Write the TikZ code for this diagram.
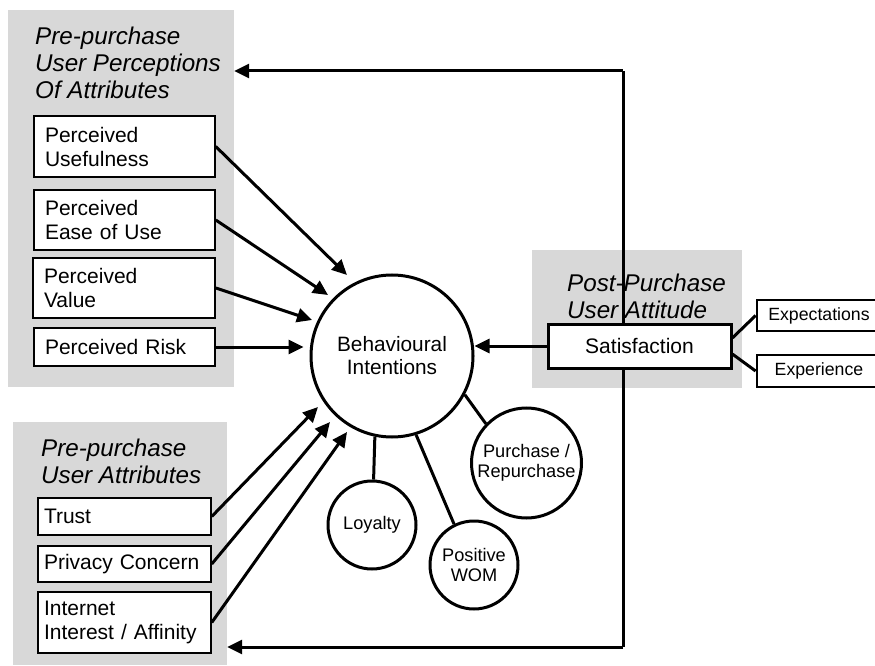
\documentclass[tikz,border=0pt]{standalone}
\usepackage{fontspec}
\setmainfont{Liberation Sans}
\usetikzlibrary{arrows.meta,calc}
\definecolor{grpgray}{RGB}{216,216,216}
\newcommand{\ttlfont}{\fontsize{24.2}{27}\selectfont\itshape}
\newcommand{\boxfont}{\fontsize{21}{24}\selectfont}
\newcommand{\bifont}{\fontsize{20.8}{23}\selectfont}
\newcommand{\smallcfont}{\fontsize{18.2}{20}\selectfont}
\newcommand{\sidefont}{\fontsize{17.7}{20}\selectfont}
\begin{document}
\begin{tikzpicture}[x=1pt,y=1pt,
  grp/.style={fill=grpgray,draw=none,inner sep=0pt},
  ttl/.style={font=\ttlfont,align=left,anchor=north west,inner sep=0pt},
  attr/.style={draw,line width=1.5pt,fill=white,align=left,font=\boxfont,
    inner xsep=11pt,inner ysep=0pt},
  uattr/.style={attr,inner xsep=6pt},
  bigc/.style={circle,draw,line width=3pt,fill=white,align=center,font=\bifont,inner sep=0pt},
  smallc/.style={circle,draw,line width=3pt,fill=white,align=center,font=\smallcfont,inner sep=0pt},
  satbox/.style={draw,line width=3pt,fill=white,font=\boxfont,inner sep=0pt},
  sidebox/.style={draw,line width=2.8pt,fill=white,font=\sidefont,inner sep=0pt},
  arr/.style={line width=3pt,-{Triangle[length=15pt,width=14pt]}},
  link/.style={line width=3pt},
  fb/.style={line width=3pt}]
\useasboundingbox (0,0) rectangle (875,665);

% grey group panels
\node[grp,minimum width=226pt,minimum height=377pt] (g1) at (121,466.5) {};
\node[grp,minimum width=214pt,minimum height=243pt] (g2) at (120,121.5) {};
\node[grp,minimum width=210pt,minimum height=138pt] (g3) at (637,346) {};

% feedback loop from satisfaction back to both pre-purchase groups
\coordinate (fbtop) at (623,594);
\coordinate (fbbot) at (623,18);
\draw[fb] (fbbot) -- (fbtop);
\draw[arr] (fbtop) -- (fbtop -| g1.east);
\draw[arr] (fbbot) -- (fbbot -| g2.east);

% panel titles
\node[ttl] (t1) at (35,638) {Pre-purchase\\User Perceptions\\Of Attributes};
\node[ttl] (t2) at (41,226) {Pre-purchase\\User Attributes};
\node[ttl] (t3) at (567,391) {Post-Purchase\\User Attitude};

% perceived attributes
\node[attr,minimum width=181pt,minimum height=61pt,text width=159pt] (pu) at (124.5,518.5) {Perceived\\Usefulness};
\node[attr,minimum width=181pt,minimum height=60pt,text width=159pt] (pe) at (124.5,445) {Perceived\\Ease of Use};
\node[attr,minimum width=182pt,minimum height=60pt,text width=160pt] (pv) at (124,377) {Perceived\\Value};
\node[attr,minimum width=181pt,minimum height=38pt,text width=159pt] (pr) at (124.5,318) {Perceived Risk};

% user attributes
\node[uattr,minimum width=173pt,minimum height=37pt,text width=161pt] (tr) at (124.5,148.5) {Trust};
\node[uattr,minimum width=173pt,minimum height=36pt,text width=161pt] (pc) at (124.5,101) {Privacy Concern};
\node[uattr,minimum width=173pt,minimum height=61pt,text width=161pt] (ia) at (124.5,42.5) {Internet\\Interest / Affinity};

% behavioural intentions and its outcomes
\node[bigc,minimum size=162pt] (bi) at (392,309) {Behavioural\\Intentions};
\node[smallc,minimum size=88pt] (loy) at (372,140) {Loyalty};
\node[smallc,minimum size=88pt] (wom) at (474,100) {Positive\\WOM};
\node[smallc,minimum size=110pt] (pur) at (526.5,202) {Purchase /\\Repurchase};
\draw[link] (bi.-102) -- (loy.88);
\draw[link] (bi.-73.8) -- (wom.116);
\draw[link] (bi.-28.4) -- (pur.136);

% post-purchase attitude
\node[satbox,minimum width=183pt,minimum height=44pt] (sat) at (639.5,319) {Satisfaction};
\node[sidebox,minimum width=124pt,minimum height=31pt] (expc) at (819,349.5) {Expectations};
\node[sidebox,minimum width=124pt,minimum height=32pt] (expr) at (819,294) {Experience};
\draw[link] (sat.5) -- (expc.west);
\draw[link] (sat.-5) -- (expr.west);
\draw[arr] (sat.west) -- (sat.west -| bi.east);

% influences on behavioural intentions
\draw[arr] (pu.east) -- ($(bi.center)+(119.06:92.7)$);
\draw[arr] (pe.east) -- ($(bi.center)+(136.38:88.4)$);
\draw[arr] (pv.east) -- ($(bi.center)+(155.77:87.7)$);
\draw[arr,shorten >=6pt] (pr.east) -- (pr.east -| bi.west);
\draw[arr] (tr.east) -- ($(bi.center)+(214.57:89.9)$);
\draw[arr] (pc.east) -- ($(bi.center)+(226.79:90.6)$);
\draw[arr] (ia.east) -- ($(bi.center)+(239.37:88.3)$);
\end{tikzpicture}
\end{document}
